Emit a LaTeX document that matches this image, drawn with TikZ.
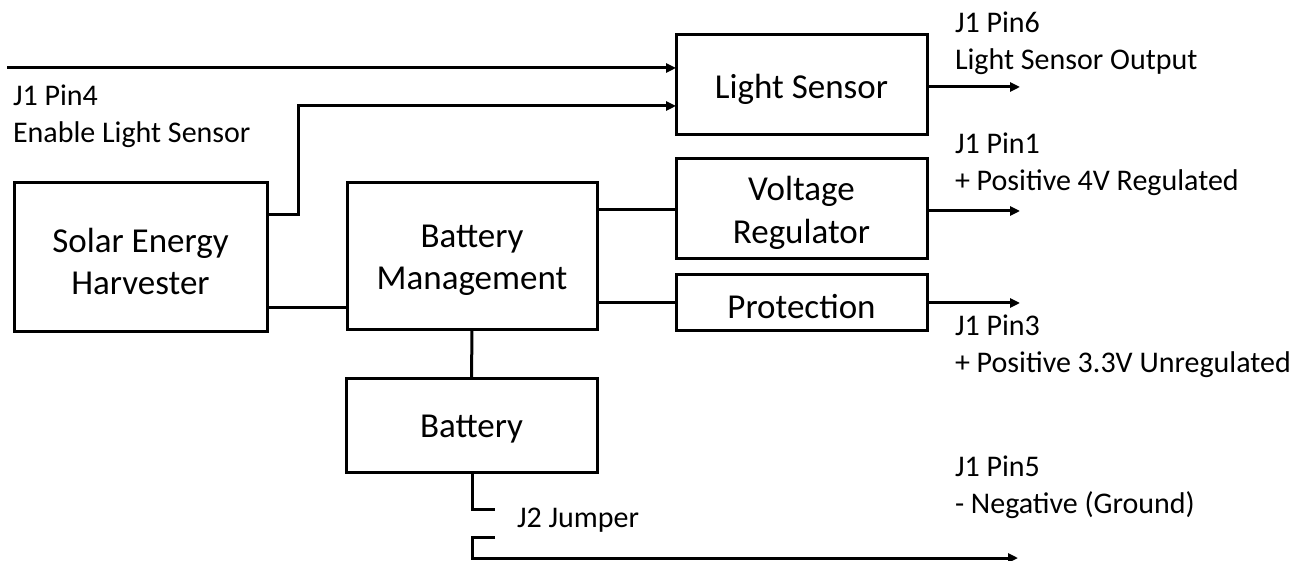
\documentclass[tikz,border=0pt]{standalone}
\usepackage{fontspec}
\setmainfont{Carlito}
\usetikzlibrary{arrows.meta}
\begin{document}
\begin{tikzpicture}[x=1pt,y=-1pt,
  line width=3pt,
  blk/.style={draw, line width=3pt, inner sep=0pt, outer sep=0pt,
    label={[btxt]center:{#1}}},
  btxt/.style={inner sep=0pt, align=center, yshift=-4pt,
    font=\fontsize{35}{42.5}\selectfont},
  lbl/.style={inner sep=0pt, outer sep=0pt, align=left, anchor=north west,
    font=\fontsize{30}{36.5}\selectfont},
  arr/.style={-{Triangle[length=10pt,width=9pt]}}]
\useasboundingbox (0,0) rectangle (1304,561);

% blocks
\node[blk={Solar Energy\\Harvester}, minimum width=253pt, minimum height=149pt] (solar) at (140.5,257.5) {};
\node[blk={Battery\\Management}, minimum width=250pt, minimum height=147pt] (bm) at (472,256.5) {};
\node[blk={Light Sensor}, minimum width=251pt, minimum height=100pt] (ls) at (801.5,85) {};
\node[blk={Voltage\\Regulator}, minimum width=251pt, minimum height=100pt] (vr) at (801.5,209) {};
\node[blk={Protection}, minimum width=251pt, minimum height=56pt] (prot) at (801.5,303) {};
\node[blk={Battery}, minimum width=251pt, minimum height=94pt] (bat) at (471.5,425) {};

% helper coordinates
\coordinate (in1) at (7,68);
\coordinate (sb) at (298,215);
\coordinate (y2) at (0,106);
\coordinate (ysb) at (0,308);
\coordinate (yvr) at (0,210);
\coordinate (ypr) at (0,303);
\coordinate (ja) at (472,509);
\coordinate (jb) at (495,509);
\coordinate (jc) at (495,537);
\coordinate (jd) at (472,537);
\coordinate (gnd) at (472,558);
\coordinate (gndend) at (1018,558);
\coordinate (o6) at (1020,87);
\coordinate (o1) at (1020,211);
\coordinate (o3) at (1020,303);

% connectors
\draw[arr] (in1) -- (in1 -| ls.west);
\draw[arr] (sb -| solar.east) -- (sb) |- (ls.west |- y2);
\draw (solar.east |- ysb) -- (bm.west |- ysb);
\draw (bm.east |- yvr) -- (vr.west |- yvr);
\draw (bm.east |- ypr) -- (prot.west |- ypr);
\draw (bm.south) -- (bat.north);
\draw[arr] (ls.east |- o6) -- (o6);
\draw[arr] (vr.east |- o1) -- (o1);
\draw[arr] (prot.east |- o3) -- (o3);
\draw[line join=miter] (bat.south -| ja) -- (ja) -- (jb);
\draw[arr, line join=miter] (jc) -- (jd) -- (gnd) -- (gndend);

% labels
\node[lbl] (l6) at (955,12) {J1 Pin6\\Light Sensor Output};
\node[lbl] (l1) at (955,133) {J1 Pin1\\+ Positive 4V Regulated};
\node[lbl] (l3) at (955,315) {J1 Pin3\\+ Positive 3.3V Unregulated};
\node[lbl] (l5) at (955,456) {J1 Pin5\\- Negative (Ground)};
\node[lbl] (l4) at (13,85) {J1 Pin4\\Enable Light Sensor};
\node[lbl, anchor=base west] (j2) at (517,527) {J2 Jumper};
\end{tikzpicture}
\end{document}
